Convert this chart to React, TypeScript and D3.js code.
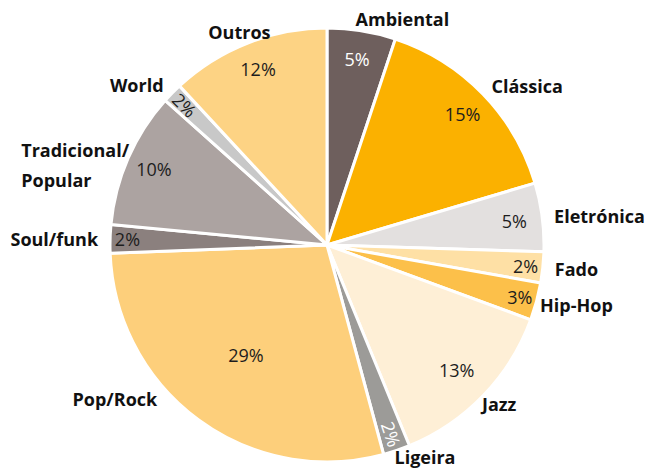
import * as d3 from "d3";

// genres, clockwise from 12 o'clock
const genres = [
  "Ambiental",
  "Clássica",
  "Eletrónica",
  "Fado",
  "Hip-Hop",
  "Jazz",
  "Ligeira",
  "Pop/Rock",
  "Soul/funk",
  "Tradicional/\nPopular",
  "World",
  "Outros",
];
// share of total, %
const shares = [5.1, 15.3, 5.1, 2.3, 2.8, 13.2, 2.0, 28.6, 2.1, 10.1, 1.5, 11.9];

const fills = [
  "#6e5f5d",
  "#fbb100",
  "#e3e0df",
  "#fee0a5",
  "#fcc04a",
  "#feefd6",
  "#9c9b98",
  "#fdcf7b",
  "#8b807e",
  "#aca3a1",
  "#c8c8c8",
  "#fdd384",
];
const lightText = new Set(["Ambiental", "Ligeira"]);
const rotatedText = new Set(["World", "Ligeira"]);
// small hand tweaks for the outside labels
const labelNudge: Record<string, { angle?: number; dx?: number; dy?: number; anchor?: string }> = {
  Ambiental: { dx: -8 },
  "Hip-Hop": { dx: -8 },
  Jazz: { dx: -10 },
  Ligeira: { dx: -6, dy: -5 },
  "Pop/Rock": { angle: 11.5 },
  Outros: { anchor: "middle", dx: -4 },
};

const W = 649;
const H = 472;
const cx = 327;
const cy = 245;
const R = 217;
const FONT = "'Open Sans', Lato, sans-serif";
const LABEL_SIZE = 18;

const measure = (() => {
  const ctx = document.createElement("canvas").getContext("2d")!;
  return (s: string, font: string) => {
    ctx.font = font;
    return ctx.measureText(s).width;
  };
})();

export default function App() {
  const pie = d3
    .pie<number>()
    .sort(null)
    .value((d) => d)(shares);

  const arc = d3.arc<d3.PieArcDatum<number>>().innerRadius(0).outerRadius(R);

  const polar = (a: number, r: number) => [Math.sin(a) * r, -Math.cos(a) * r];

  return (
    <svg
      width={W}
      height={H}
      style={{ position: "absolute", left: 0, top: 0, background: "#fff" }}
      fontFamily={FONT}
    >
      <g transform={`translate(${cx},${cy})`}>
        {pie.map((d, i) => (
          <path key={i} d={arc(d) || ""} fill={fills[i]} stroke="#fff" strokeWidth={3} strokeLinejoin="round" />
        ))}

        {/* percentages inside the slices */}
        {pie.map((d, i) => {
          const mid = (d.startAngle + d.endAngle) / 2;
          const v = shares[i];
          const frac = v > 20 ? 0.63 : v < 3.5 ? 0.92 : v > 12 && v < 14 ? 0.83 : 0.87;
          const [x, y] = polar(mid, R * frac);
          let rot = 0;
          const name = genres[i].split("\n")[0];
          if (rotatedText.has(name)) {
            rot = (Math.atan2(-Math.cos(mid), Math.sin(mid)) * 180) / Math.PI;
            if (rot > 90) rot -= 180;
            if (rot < -90) rot += 180;
          }
          return (
            <text
              key={i}
              transform={`translate(${x},${y}) rotate(${rot})`}
              textAnchor="middle"
              dominantBaseline="central"
              fontSize={18}
              fontWeight={400}
              fill={lightText.has(name) ? "#fff" : "#1d1d1d"}
            >
              {`${Math.round(v)}%`}
            </text>
          );
        })}

        {/* genre names outside */}
        {pie.map((d, i) => {
          const lines = genres[i].split("\n");
          const name = lines[0];
          const nudge = labelNudge[name] || {};
          const mid = (d.startAngle + d.endAngle) / 2 + ((nudge.angle || 0) * Math.PI) / 180;
          const [px, py0] = polar(mid, R + 12);
          const x = px + (nudge.dx || 0);
          const py = py0 + (nudge.dy || 0);
          const anchor = nudge.anchor || (Math.sin(mid) >= 0 ? "start" : "end");
          const font = `bold ${LABEL_SIZE}px ${FONT}`;
          if (lines.length > 1) {
            const maxW = d3.max(lines, (l) => measure(l, font)) || 0;
            const x0 = anchor === "end" ? x - maxW + 12 : x;
            return (
              <text key={i} fontSize={LABEL_SIZE} fontWeight={700} fill="#111">
                {lines.map((l, j) => (
                  <tspan key={j} x={x0} y={py - 3 + j * 30} dominantBaseline="central">
                    {l}
                  </tspan>
                ))}
              </text>
            );
          }
          return (
            <text
              key={i}
              x={x}
              y={py}
              textAnchor={anchor}
              dominantBaseline="central"
              fontSize={LABEL_SIZE}
              fontWeight={700}
              fill="#111"
            >
              {name}
            </text>
          );
        })}
      </g>
    </svg>
  );
}
